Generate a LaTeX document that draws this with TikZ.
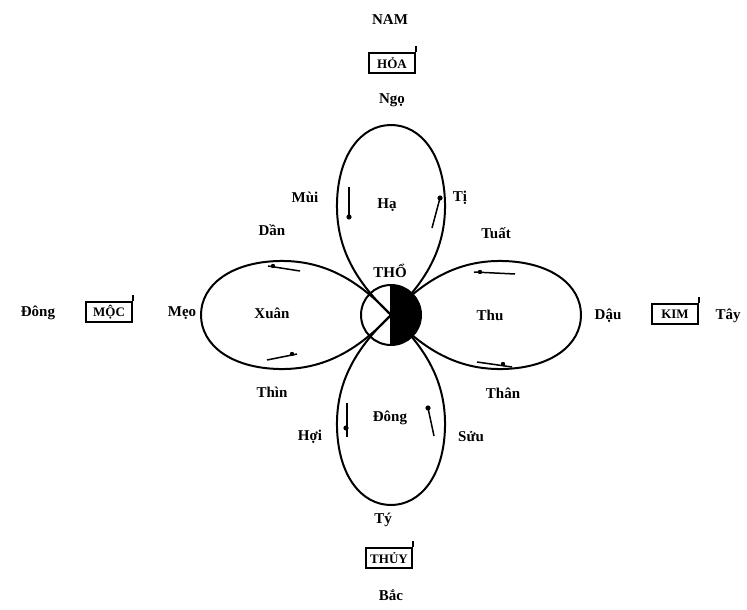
\documentclass[tikz,border=0pt]{standalone}
\usepackage{fontspec}
\setmainfont{Liberation Serif}
\begin{document}
\begin{tikzpicture}[x=1pt,y=-1pt,
  lbl/.style={font=\fontsize{15}{17}\selectfont\bfseries, inner sep=1pt},
  elem/.style={draw, line width=1.8pt, minimum width=46pt, minimum height=20pt,
               inner sep=2pt, font=\fontsize{13}{15}\selectfont\bfseries},
  petal/.style={line width=2pt},
  tick/.style={line width=1.5pt},
  dot/.style={fill=black},
]
\useasboundingbox (0,0) rectangle (747,610);
\coordinate (O) at (391,315);

% centre disc (white half first, petals pass over it)
\fill[white] (O) circle (30);

% four petals radiating from the centre
\foreach \a in {0,90,180,270}{
  \draw[petal, shift={(O)}, rotate=\a]
    (0,0) .. controls (-34,-32) and (-55,-66) .. (-54,-112)
          .. controls (-53,-160) and (-30,-190) .. (0,-190)
          .. controls (30,-190) and (53,-160) .. (54,-112)
          .. controls (55,-66) and (34,-32) .. cycle;
}

% dark half of the centre disc and its outline
\fill (391,345) arc[start angle=90, end angle=-90, radius=30] -- cycle;
\draw[petal] (O) circle (30);
\draw[petal] (391,285) -- (391,345);

% direction ticks on the petals
\draw[tick] (349,187) -- (349,217);  \fill[dot] (349,217) circle (2.6);
\draw[tick] (440,198) -- (432,228);  \fill[dot] (440,198) circle (2.6);
\draw[tick] (268,266) -- (300,271);  \fill[dot] (273,266) circle (2.2);
\draw[tick] (267,360) -- (297,354);  \fill[dot] (292,354) circle (2.2);
\draw[tick] (474,272) -- (515,274);  \fill[dot] (480,272) circle (2.2);
\draw[tick] (477,362) -- (512,367);  \fill[dot] (503,364) circle (2.2);
\draw[tick] (347,403) -- (347,437);  \fill[dot] (346,428) circle (2.6);
\draw[tick] (428,408) -- (434,436);  \fill[dot] (428,408) circle (2.6);

% labels
\node[lbl]  (nam)   at (390,20)  {NAM};
\node[elem] (hoa)   at (392,63)  {HỎA};
\node[lbl]  (ngo)   at (392,100) {Ngọ};
\node[lbl]  (mui)   at (305,197) {Mùi};
\node[lbl]  (ti)    at (460,198) {Tị};
\node[lbl]  (ha)    at (387,205) {Hạ};
\node[lbl]  (dan)   at (272,230) {Dần};
\node[lbl]  (tuat)  at (496,233) {Tuất};
\node[lbl]  (tho)   at (390,271) {THỔ};
\node[lbl]  (dong)  at (38,313)  {Đông};
\node[elem] (moc)   at (109,312) {MỘC};
\node[lbl]  (meo)   at (182,313) {Mẹo};
\node[lbl]  (xuan)  at (272,313) {Xuân};
\node[lbl]  (thu)   at (490,315) {Thu};
\node[lbl]  (dau)   at (608,316) {Dậu};
\node[elem] (kim)   at (675,314) {KIM};
\node[lbl]  (tay)   at (728,316) {Tây};
\node[lbl]  (thin)  at (272,392) {Thìn};
\node[lbl]  (than)  at (503,393) {Thân};
\node[lbl]  (dongw) at (390,418) {Đông};
\node[lbl]  (hoi)   at (310,437) {Hợi};
\node[lbl]  (suu)   at (471,437) {Sửu};
\node[lbl]  (ty)    at (383,520) {Tý};
\node[elem] (thuy)  at (389,558) {THỦY};
\node[lbl]  (bac)   at (391,595) {Bắc};

% small raised corner on each element box
\foreach \n in {hoa,moc,kim,thuy}
  \draw[tick] (\n.north east) -- ++(0,-6);
\end{tikzpicture}
\end{document}
